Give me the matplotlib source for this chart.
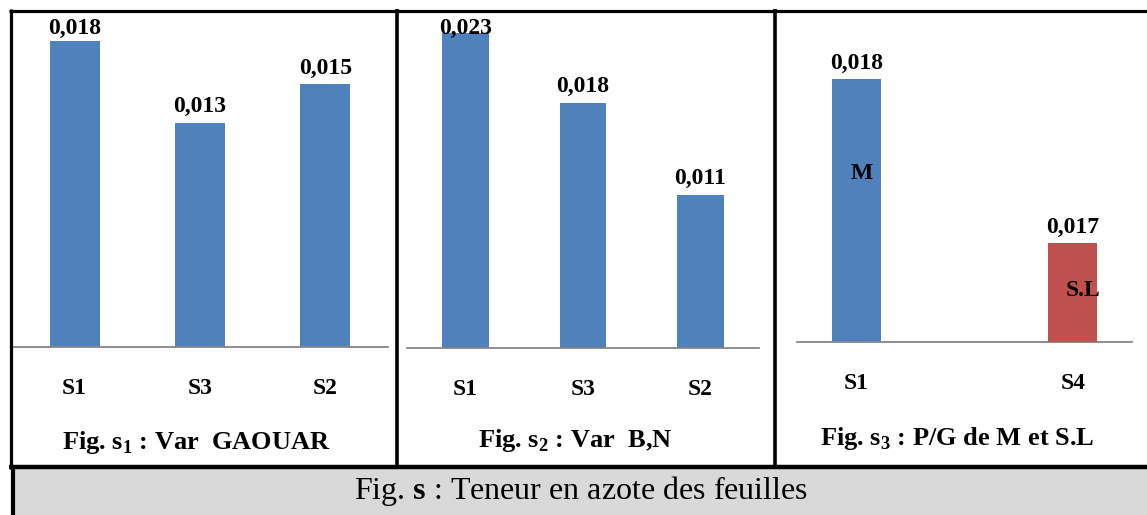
import numpy as np
import matplotlib
matplotlib.use("Agg")
import matplotlib.pyplot as plt
from matplotlib.lines import Line2D
from matplotlib.patches import Rectangle
from matplotlib.transforms import blended_transform_factory

plt.rcParams['font.family'] = ['Liberation Serif', 'DejaVu Serif']
plt.rcParams['mathtext.fontset'] = 'custom'
plt.rcParams['mathtext.rm'] = 'Liberation Serif'
plt.rcParams['mathtext.bf'] = 'Liberation Serif:bold'

# data
cats1 = ['S1', 'S3', 'S2']
vals1 = [0.0176, 0.0129, 0.0151]
cats2 = ['S1', 'S3', 'S2']
vals2 = [0.0230, 0.0179, 0.0112]
cats3 = ['S1', 'S4']
vals3_M = [0.018, np.nan]
vals3_SL = [np.nan, 0.017]

titles = [r"Fig. s$_{\mathbf{1}}$ : Var  GAOUAR",
          r"Fig. s$_{\mathbf{2}}$ : Var  B,N",
          r"Fig. s$_{\mathbf{3}}$ : P/G de M et S.L"]
caption = r"Fig. $\mathbf{s}$ : Teneur en azote des feuilles"

BLUE = "#4F81BD"
RED = "#C0504D"
AXC = "#868686"

W, H = 1147, 515
fig = plt.figure(figsize=(W / 100, H / 100), dpi=100)


def px_axes(x0, x1, ytop, ybase):
    return fig.add_axes([x0 / W, (H - ybase) / H, (x1 - x0) / W, (ybase - ytop) / H])


def style(ax):
    for s in ['top', 'left', 'right']:
        ax.spines[s].set_visible(False)
    ax.spines['bottom'].set_color(AXC)
    ax.spines['bottom'].set_linewidth(1.3)
    ax.set_yticks([])
    ax.tick_params(axis='x', length=0, pad=22)
    for t in ax.get_xticklabels():
        t.set_fontweight('bold')
        t.set_fontsize(17)
    ax.patch.set_alpha(0)


def vlabel(ax, x, v, ymax, hpx):
    yf = min(v / ymax + 16 / hpx, 1 - 16 / hpx)
    tr = blended_transform_factory(ax.transData, ax.transAxes)
    ax.text(x, yf, ("%.3f" % v).replace('.', ','), transform=tr,
            ha='center', va='center', fontsize=17, fontweight='bold')


def simple_panel(x0, x1, ybase, cats, vals, ymax):
    ax = px_axes(x0, x1, 12, ybase)
    x = np.arange(len(cats))
    ax.bar(x, vals, width=0.4, color=BLUE)
    ax.set_xlim(-0.5, len(cats) - 0.5)
    ax.set_ylim(0, ymax)
    ax.set_xticks(x)
    ax.set_xticklabels(cats)
    style(ax)
    for xi, v in zip(x, vals):
        vlabel(ax, xi, v, ymax, ybase - 12)
    return ax


simple_panel(12, 388, 347, cats1, vals1, 0.01925)
simple_panel(407, 759, 348, cats2, vals2, 0.02453)

# panel 3: clustered, S.L on secondary axis
w = 0.2925
x3 = np.arange(len(cats3))
ax3 = px_axes(797, 1132, 12, 342)
ax3b = ax3.twinx()
ax3.bar(x3 - w / 2, vals3_M, width=w, color=BLUE)
ax3b.bar(x3 + w / 2, vals3_SL, width=w, color=RED)
ymax3, ymax3b = 0.02259, 0.05667
ax3.set_ylim(0, ymax3)
ax3b.set_ylim(0, ymax3b)
ax3.set_xlim(-0.5, 1.5)
ax3.set_xticks([x3[0] - w / 2, x3[1] + w / 2])
ax3.set_xticklabels(cats3)
style(ax3)
for s in ax3b.spines.values():
    s.set_visible(False)
ax3b.set_yticks([])
vlabel(ax3, x3[0] - w / 2, vals3_M[0], ymax3, 330)
vlabel(ax3b, x3[1] + w / 2, vals3_SL[1], ymax3b, 330)
ax3.text(x3[0] - w / 2 + 0.03, vals3_M[0] * 0.64, "M", ha='center', va='center',
         fontsize=17, fontweight='bold')
ax3b.text(x3[1] + w / 2 + 0.06, vals3_SL[1] * 0.52, "S.L", ha='center', va='center',
          fontsize=17, fontweight='bold')

# subtitles
for xc, yc, t in zip([196, 575, 957], [443, 441, 438], titles):
    fig.text(xc / W, 1 - yc / H, t, ha='center', va='center', fontsize=19, fontweight='bold')


# frame
def hline(y, x0, x1, lw):
    fig.add_artist(Line2D([x0 / W, x1 / W], [1 - y / H, 1 - y / H], color='k', lw=lw,
                          solid_capstyle='butt'))


def vline(x, y0, y1, lw):
    fig.add_artist(Line2D([x / W, x / W], [1 - y0 / H, 1 - y1 / H], color='k', lw=lw,
                          solid_capstyle='butt'))


fig.add_artist(Rectangle((13 / W, 0), (W - 13) / W, (H - 469) / H,
                         transform=fig.transFigure, color="#D9D9D9", lw=0))
hline(10.5, 9, W, 2.3)
vline(10.5, 9, 469, 2.3)
vline(397, 9, 467, 2.6)
vline(775, 9, 467, 2.6)
hline(467, 9, W, 3.2)
vline(13, 467, H, 3)

fig.text(581 / W, 1 - 491 / H, caption, ha='center', va='center', fontsize=23)

fig.savefig("out.png", dpi=100)
